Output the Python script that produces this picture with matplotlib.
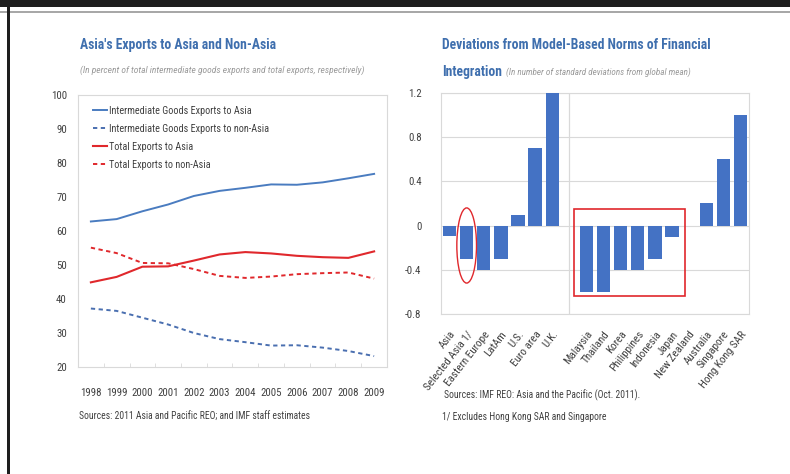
import matplotlib
matplotlib.use("Agg")
import matplotlib.pyplot as plt
from matplotlib import font_manager as fm
from matplotlib.patches import Rectangle, Ellipse
import numpy as np

# ---------------- data ----------------
years = ["1998", "1999", "2000", "2001", "2002", "2003", "2004", "2005", "2006", "2007", "2008", "2009"]
inter_asia = [62.8, 63.5, 65.8, 67.8, 70.3, 71.8, 72.7, 73.7, 73.6, 74.3, 75.5, 76.8]
inter_nonasia = [37.2, 36.5, 34.5, 32.5, 30.0, 28.2, 27.3, 26.3, 26.4, 25.7, 24.7, 23.2]
total_asia = [44.9, 46.5, 49.5, 49.6, 51.3, 53.1, 53.8, 53.4, 52.7, 52.3, 52.1, 54.0]
total_nonasia = [55.1, 53.5, 50.6, 50.5, 48.8, 46.8, 46.2, 46.6, 47.3, 47.6, 47.8, 46.0]
line_labels = ["Intermediate Goods Exports to Asia", "Intermediate Goods Exports to non-Asia",
               "Total Exports to Asia", "Total Exports to non-Asia"]

countries = ["Asia", "Selected Asia 1/", "Eastern Europe", "LatAm", "U.S.", "Euro area", "U.K.", "",
             "Malaysia", "Thailand", "Korea", "Philippines", "Indonesia", "Japan",
             "New Zealand", "Australia", "Singapore", "Hong Kong SAR"]
deviations = [-0.09, -0.3, -0.4, -0.3, 0.1, 0.7, 1.3, np.nan,
              -0.6, -0.6, -0.4, -0.4, -0.3, -0.1,
              0.0, 0.2, 0.6, 1.0]

# ---------------- fonts ----------------
avail = {f.name for f in fm.fontManager.ttflist}
narrow = None
for n in ["Liberation Sans Narrow", "Roboto Condensed", "Open Sans Condensed"]:
    if n in avail:
        narrow = n
        break
stretch = "normal"
if narrow is None:
    narrow = "DejaVu Sans"
    stretch = "condensed"
plt.rcParams["font.family"] = [narrow, "DejaVu Sans"]
plt.rcParams["font.stretch"] = stretch

TITLE_C = "#3f6fae"
SUB_C = "#9a9a9a"
TXT_C = "#404040"
GRID_C = "#d9d9d9"
BLUE = "#4a7cc0"
RED = "#e0282c"
BAR = "#4472c4"

W, H = 790, 474
fig = plt.figure(figsize=(W / 100, H / 100), dpi=100)
fig.patch.set_facecolor("white")

def fx(px):
    return px / W

def fy(py):
    return 1 - py / H

# frame decorations
fig.add_artist(Rectangle((0, fy(7)), 1, 7 / H, transform=fig.transFigure, color="#1e1e1e", lw=0))
fig.add_artist(Rectangle((0, fy(13)), 1, 2.5 / H, transform=fig.transFigure, color="#a8a8a8", lw=0))
fig.add_artist(Rectangle((fx(7), 0), 2.5 / W, fy(7), transform=fig.transFigure, color="#1e1e1e", lw=0))

# ---------------- left chart ----------------
ax1 = fig.add_axes([fx(78), fy(367), fx(387) - fx(78), fy(95) - fy(367)])
x = np.arange(len(years))
ax1.plot(x, inter_asia, color=BLUE, lw=1.4, label=line_labels[0])
ax1.plot(x, inter_nonasia, color="#4a6fb0", lw=1.4, ls=(0, (2.2, 1.8)), label=line_labels[1])
ax1.plot(x, total_asia, color=RED, lw=1.5, label=line_labels[2])
ax1.plot(x, total_nonasia, color=RED, lw=1.4, ls=(0, (2.2, 1.8)), label=line_labels[3])
ax1.set_xlim(-0.5, len(years) - 0.5)
ax1.set_ylim(20, 100)
ax1.set_yticks(np.arange(20, 101, 10))
ax1.set_xticks(x)
ax1.set_xticklabels(years)
ax1.set_xticks(np.arange(-0.5, len(years), 1), minor=True)
ax1.tick_params(axis="x", which="major", length=0, pad=15, labelsize=7.8, colors=TXT_C)
ax1.tick_params(axis="x", which="minor", length=3, direction="in", color=GRID_C)
ax1.tick_params(axis="y", length=0, pad=8, labelsize=7.8, colors=TXT_C)
for s in ax1.spines.values():
    s.set_color(GRID_C)
    s.set_linewidth(0.8)
leg = ax1.legend(loc="upper left", bbox_to_anchor=(0.035, 0.975), frameon=False,
                 fontsize=7.3, handlelength=1.4, handletextpad=0.15, labelspacing=0.78,
                 borderaxespad=0)
for t in leg.get_texts():
    t.set_color(TXT_C)

fig.text(fx(80), fy(45), "Asia's Exports to Asia and Non-Asia", color=TITLE_C,
         fontsize=9.8, fontweight="bold", va="center", ha="left")
fig.text(fx(80), fy(70), "(In percent of total intermediate goods exports and total exports, respectively)",
         color=SUB_C, fontsize=6.8, style="italic", va="center", ha="left")
fig.text(fx(79), fy(417), "Sources: 2011 Asia and Pacific REO; and IMF staff estimates",
         color=TXT_C, fontsize=6.9, va="center", ha="left")

# ---------------- right chart ----------------
ax2 = fig.add_axes([fx(441), fy(314), fx(749) - fx(441), fy(93) - fy(314)])
xb = np.arange(len(countries))
ax2.bar(xb, deviations, width=0.78, color=BAR, zorder=3)
ax2.set_xlim(-0.5, len(countries) - 0.5)
ax2.set_ylim(-0.8, 1.2)
ax2.set_yticks([-0.8, -0.4, 0, 0.4, 0.8, 1.2])
ax2.set_yticklabels(["-0.8", "-0.4", "0", "0.4", "0.8", "1.2"])
ax2.yaxis.grid(True, color=GRID_C, lw=0.8, zorder=0)
sep = countries.index("")
ax2.axvline(sep, color=GRID_C, lw=0.9, zorder=1)
ax2.set_xticks(xb)
ax2.set_xticklabels(countries, rotation=52, ha="right", va="top", rotation_mode="anchor")
ax2.tick_params(axis="x", length=0, pad=11, labelsize=8.0, colors=TXT_C)
ax2.tick_params(axis="y", length=0, pad=14, labelsize=7.8, colors=TXT_C)
for s in ax2.spines.values():
    s.set_color(GRID_C)
    s.set_linewidth(0.8)

# annotations: ellipse and box (data coordinates)
ax2.add_patch(Ellipse((1.0, -0.18), 1.15, 0.68, fill=False, edgecolor=RED, lw=1.0, zorder=4))
ax2.add_patch(Rectangle((7.28, -0.64), 6.5, 0.79, fill=False, edgecolor=RED, lw=1.2, zorder=4))

fig.text(fx(442), fy(45), "Deviations from Model-Based Norms of Financial", color=TITLE_C,
         fontsize=9.8, fontweight="bold", va="center", ha="left")
t_int = fig.text(fx(442), fy(72), "Integration", color=TITLE_C,
                 fontsize=9.8, fontweight="bold", va="center", ha="left")
fig.canvas.draw()
bb = t_int.get_window_extent(renderer=fig.canvas.get_renderer())
fig.text((bb.x1 + 4) / W, fy(72), "(In number of standard deviations from global mean)",
         color=SUB_C, fontsize=6.6, style="italic", va="center", ha="left")
fig.text(fx(444), fy(395), "Sources: IMF REO: Asia and the Pacific (Oct. 2011).",
         color=TXT_C, fontsize=6.9, va="center", ha="left")
fig.text(fx(442), fy(417), "1/ Excludes Hong Kong SAR and Singapore",
         color=TXT_C, fontsize=6.9, va="center", ha="left")

fig.savefig("out.png", dpi=100, facecolor="white")
